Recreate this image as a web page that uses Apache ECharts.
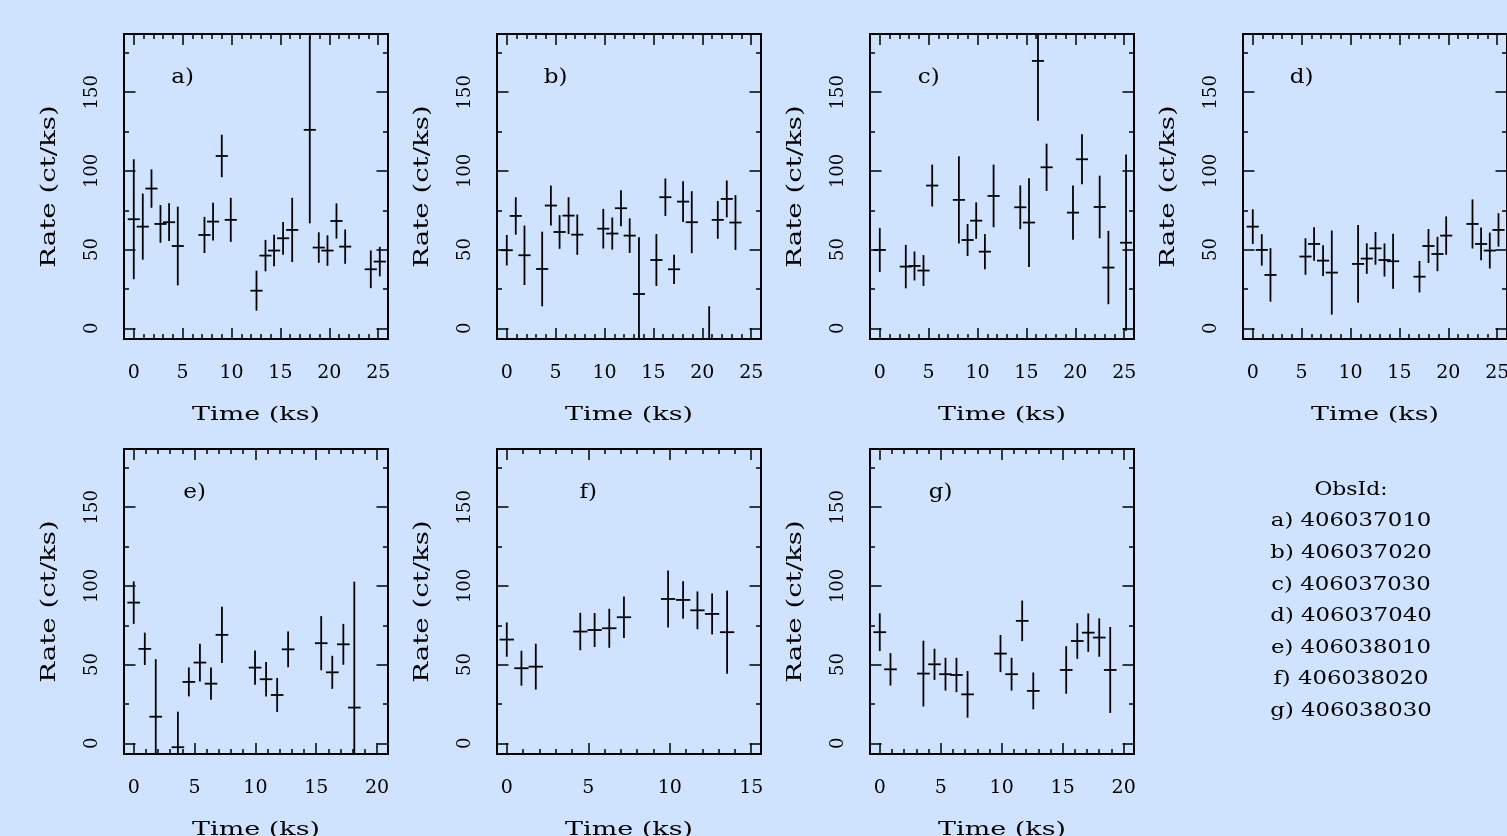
<!DOCTYPE html>
<html>
<head>
<meta charset="utf-8">
<title>Light curves</title>
<script src="https://cdn.jsdelivr.net/npm/echarts@6/dist/echarts.min.js"></script>
<style>
  html, body { margin: 0; padding: 0; background: #d0e3fe; }
  #chart { width: 1507px; height: 836px; }
</style>
</head>
<body>
<div id="chart"></div>
<script>
// panel letters and the observation ids listed at the lower right
const panelNames = ['a)', 'b)', 'c)', 'd)', 'e)', 'f)', 'g)']
const obsIds = ['406037010', '406037020', '406037030', '406037040', '406038010', '406038020', '406038030']

// bin centre (ks), rate (ct/ks), 1 sigma error (ct/ks)
const timeA = [0, 0.92, 1.81, 2.73, 3.61, 4.50, 7.23, 8.11, 9.00, 9.92, 12.55, 13.47, 14.35, 15.27, 16.20, 18.00, 18.92, 19.81, 20.73, 21.62, 24.24, 25.16]
const rateA = [69.3, 64.6, 88.8, 66.3, 67.4, 52.3, 59.3, 67.8, 109.5, 68.9, 23.9, 46.2, 49.4, 57.2, 62.5, 126.1, 51.3, 49.4, 68.2, 51.9, 37.5, 42.4]
const errA = [38.1, 21.0, 12.2, 12.0, 12.0, 25.0, 11.5, 12.0, 13.5, 14.0, 12.7, 10.0, 10.0, 10.4, 20.4, 59.4, 9.7, 9.7, 11.2, 10.9, 12.0, 9.4]

const timeB = [0, 0.92, 1.81, 3.62, 4.51, 5.40, 6.32, 7.21, 9.87, 10.79, 11.68, 12.57, 13.52, 15.30, 16.22, 17.11, 18.03, 18.92, 20.70, 21.58, 22.50, 23.39]
const rateB = [49.6, 71.4, 46.4, 37.7, 78.0, 61.2, 71.6, 59.5, 63.3, 60.2, 76.3, 58.9, 21.8, 43.4, 83.3, 37.5, 80.5, 67.4, -12.0, 68.9, 82.2, 67.2]
const errB = [9.7, 11.9, 18.9, 23.7, 12.7, 10.7, 11.7, 12.8, 12.6, 10.2, 11.4, 11.0, 36.0, 16.5, 11.9, 9.3, 12.9, 19.7, 26.0, 12.0, 11.7, 17.4]

const timeC = [0, 2.66, 3.55, 4.47, 5.36, 8.09, 8.98, 9.86, 10.75, 11.64, 14.37, 15.26, 16.18, 17.06, 19.76, 20.68, 22.49, 23.38, 25.19]
const rateC = [49.8, 39.2, 39.6, 36.7, 90.7, 81.6, 56.1, 68.4, 48.7, 84.1, 76.9, 67.2, 169.9, 102.3, 73.5, 107.4, 77.1, 38.6, 54.4]
const errC = [14.0, 13.8, 9.2, 9.8, 13.3, 27.7, 10.2, 11.6, 11.2, 19.9, 13.9, 28.2, 38.0, 15.0, 17.2, 15.9, 19.9, 23.3, 56.0]

const timeD = [0, 0.92, 1.81, 5.39, 6.27, 7.19, 8.08, 10.77, 11.66, 12.55, 13.47, 14.35, 17.05, 17.97, 18.89, 19.78, 22.47, 23.35, 24.24, 25.13]
const rateD = [64.6, 49.8, 33.9, 45.6, 53.6, 43.0, 35.4, 40.9, 44.3, 50.8, 43.4, 42.6, 32.8, 52.3, 47.2, 58.9, 66.3, 53.6, 49.4, 62.5]
const errD = [11.0, 10.0, 17.0, 11.6, 10.6, 9.7, 26.7, 24.7, 9.7, 10.4, 10.5, 17.4, 10.0, 10.8, 10.9, 12.2, 15.6, 10.4, 11.4, 10.6]

const timeE = [0, 0.91, 1.81, 3.63, 4.53, 5.44, 6.35, 7.25, 9.97, 10.88, 11.79, 12.69, 15.41, 16.32, 17.23, 18.13]
const rateE = [89.4, 60.0, 16.9, -2.5, 39.0, 51.3, 37.9, 68.9, 48.1, 40.7, 30.7, 59.7, 63.6, 45.1, 62.9, 22.7]
const errE = [13.5, 10.3, 36.5, 22.6, 9.2, 12.0, 10.3, 17.9, 10.9, 10.9, 10.8, 11.4, 17.2, 10.5, 13.0, 80.0]

const timeF = [0, 0.90, 1.78, 4.51, 5.39, 6.29, 7.19, 9.90, 10.82, 11.70, 12.60, 13.52]
const rateF = [65.9, 47.7, 48.7, 71.0, 72.0, 73.1, 80.1, 91.7, 91.1, 84.5, 82.2, 70.6]
const errF = [10.9, 11.1, 14.6, 11.9, 10.8, 12.4, 13.2, 18.1, 11.9, 12.0, 13.0, 26.4]

const timeG = [0, 0.88, 3.58, 4.49, 5.39, 6.29, 7.20, 9.90, 10.81, 11.68, 12.59, 15.29, 16.20, 17.10, 18.00, 18.90]
const rateG = [70.6, 47.0, 44.3, 50.2, 43.9, 43.4, 31.1, 57.0, 43.9, 77.8, 33.3, 46.6, 65.0, 70.3, 67.2, 46.6]
const errG = [12.0, 10.3, 20.9, 9.9, 10.4, 10.9, 14.8, 11.8, 10.4, 12.9, 11.7, 15.1, 11.3, 12.2, 12.2, 27.3]

// half bin width (ks) used for the horizontal bar of each panel
const halfBin = [0.62, 0.62, 0.62, 0.62, 0.52, 0.44, 0.52]

// axis ranges and tick labels
const xRanges = [[-1, 26], [-1, 26], [-1, 26], [-1, 26], [-0.8, 20.9], [-0.6, 15.6], [-0.8, 20.85]]
const yRange = [-6.8, 187]
const xTicks25 = [0, 5, 10, 15, 20, 25]
const xTicks20 = [0, 5, 10, 15, 20]
const xTicks15 = [0, 5, 10, 15]
const yTicks = [0, 50, 100, 150]
const yMinorTicks = [0, 25, 50, 75, 100, 125, 150, 175]

const panelData = [
    [timeA, rateA, errA],
    [timeB, rateB, errB],
    [timeC, rateC, errC],
    [timeD, rateD, errD],
    [timeE, rateE, errE],
    [timeF, rateF, errF],
    [timeG, rateG, errG]
]
const panelXTicks = [xTicks25, xTicks25, xTicks25, xTicks25, xTicks20, xTicks15, xTicks20]

// layout
const colLeft = [124, 497, 870, 1243]
const rowTop = [34, 449]
const boxW = 264
const boxH = 305
const panelPos = [[0, 0], [1, 0], [2, 0], [3, 0], [0, 1], [1, 1], [2, 1]]

const serif = '"DejaVu Serif", "Liberation Serif", serif'
const tickLine = { color: '#000', width: 1.5 }

function intTicks(range) {
    const out = []
    for (let v = Math.ceil(range[0]); v <= range[1]; v++) out.push(v)
    return out
}

function drawCross(params, api) {
    const x = api.value(0)
    const y = api.value(1)
    const dx = api.value(2)
    const dy = api.value(3)
    const l = api.coord([x - dx, y])
    const r = api.coord([x + dx, y])
    const t = api.coord([x, y + dy])
    const b = api.coord([x, y - dy])
    return {
        type: 'group',
        children: [
            { type: 'line', shape: { x1: l[0], y1: l[1], x2: r[0], y2: r[1] }, style: { stroke: '#000', lineWidth: 1.8 } },
            { type: 'line', shape: { x1: t[0], y1: t[1], x2: b[0], y2: b[1] }, style: { stroke: '#000', lineWidth: 1.8 } }
        ]
    }
}

const grids = []
const xAxes = []
const yAxes = []
const series = []
const graphics = []

panelData.forEach((pd, i) => {
    const left = colLeft[panelPos[i][0]]
    const top = rowTop[panelPos[i][1]]
    const xr = xRanges[i]
    grids.push({
        left, top, width: boxW, height: boxH,
        show: true, borderColor: '#000', borderWidth: 2, backgroundColor: 'transparent',
        containLabel: false, outerBoundsMode: 'none'
    })

    const xMinor = intTicks(xr)
    ;[['bottom', true], ['bottom', false], ['top', true], ['top', false]].forEach(([pos, major]) => {
        xAxes.push({
            gridIndex: i, type: 'value', min: xr[0], max: xr[1], position: pos,
            axisLine: { show: false, onZero: false }, splitLine: { show: false },
            axisTick: { inside: true, length: major ? 11 : 5, customValues: major ? panelXTicks[i] : xMinor, lineStyle: tickLine },
            axisLabel: {
                show: pos === 'bottom' && major, customValues: panelXTicks[i], margin: 25,
                color: '#000', fontFamily: serif, fontSize: 19
            }
        })
    })
    ;[['left', true], ['left', false], ['right', true], ['right', false]].forEach(([pos, major]) => {
        yAxes.push({
            gridIndex: i, type: 'value', min: yRange[0], max: yRange[1], position: pos,
            axisLine: { show: false, onZero: false }, splitLine: { show: false },
            axisTick: { inside: true, length: major ? 11.5 : 5, customValues: major ? yTicks : yMinorTicks, lineStyle: tickLine },
            axisLabel: {
                show: pos === 'left' && major, customValues: yTicks, rotate: 90, margin: 23,
                color: '#000', fontFamily: serif, fontSize: 18
            }
        })
    })

    const points = pd[0].map((t, k) => [t, pd[1][k], halfBin[i], pd[2][k]])
    series.push({
        type: 'custom', xAxisIndex: i * 4, yAxisIndex: i * 4,
        renderItem: drawCross, clip: true, data: points,
        encode: { x: 0, y: 1 }, silent: true
    })

    // panel letter, axis titles
    const labelX = left + (5 - xr[0]) / (xr[1] - xr[0]) * boxW
    graphics.push({
        type: 'text', x: labelX, y: top + 44, scaleX: 1.1,
        style: { text: panelNames[i], font: '21px ' + serif, fill: '#000', align: 'center', verticalAlign: 'middle' }
    })
    graphics.push({
        type: 'text', x: left + boxW / 2, y: top + boxH + 76, scaleX: 1.42,
        style: { text: 'Time (ks)', font: '19px ' + serif, fill: '#000', align: 'center', verticalAlign: 'middle' }
    })
    graphics.push({
        type: 'text', x: left - 74.5, y: top + boxH / 2, rotation: Math.PI / 2, scaleX: 1.38,
        style: { text: 'Rate (ct/ks)', font: '20px ' + serif, fill: '#000', align: 'center', verticalAlign: 'middle' }
    })
})

// ObsId list
graphics.push({
    type: 'text', x: 1351, y: 490, scaleX: 1.15,
    style: { text: 'ObsId:', font: '19px ' + serif, fill: '#000', align: 'center', verticalAlign: 'middle' }
})
obsIds.forEach((id, k) => {
    graphics.push({
        type: 'text', x: 1351, y: 521.5 + k * 31.6, scaleX: 1.2,
        style: { text: panelNames[k] + ' ' + id, font: '19px ' + serif, fill: '#000', align: 'center', verticalAlign: 'middle' }
    })
})

const chart = echarts.init(document.getElementById('chart'))
chart.setOption({
    backgroundColor: '#d0e3fe',
    animation: false,
    grid: grids,
    xAxis: xAxes,
    yAxis: yAxes,
    series,
    graphic: graphics
})
</script>
</body>
</html>
